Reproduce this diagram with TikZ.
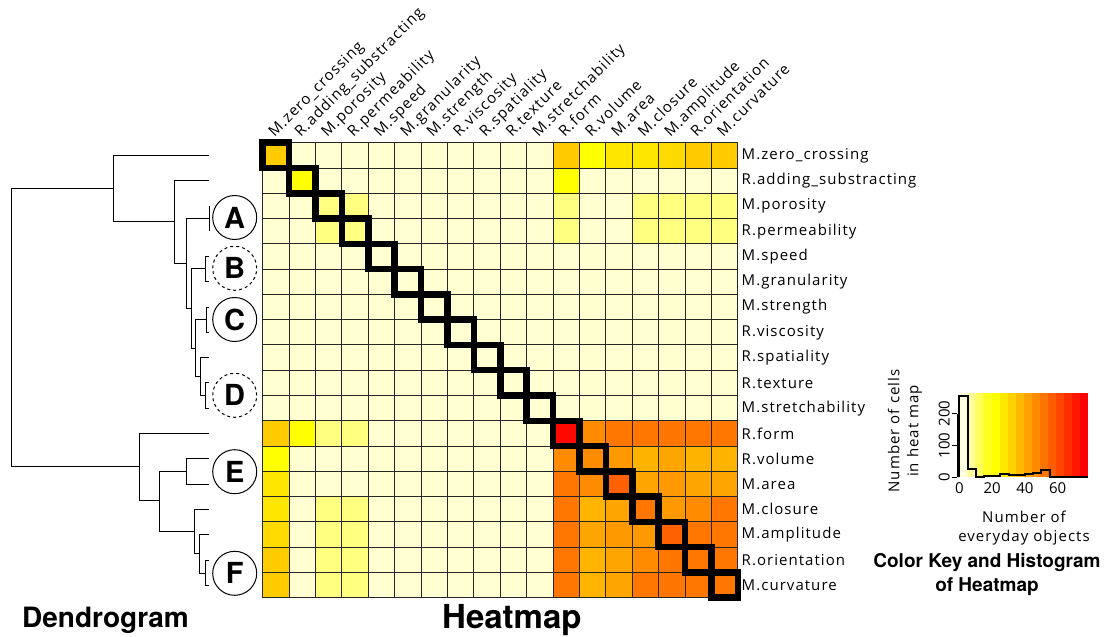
\documentclass[tikz,border=0pt]{standalone}
\usepackage{fontspec}
\setmainfont{Open Sans}[LetterSpace=7]
\newfontfamily\plain{Open Sans}
\newfontfamily\hel{TeX Gyre Heros}
\definecolor{cr}{HTML}{FFFFD2}
\definecolor{ly}{HTML}{FFFF80}
\definecolor{yl}{HTML}{FFFF00}
\definecolor{gA}{HTML}{FFE600}
\definecolor{gB}{HTML}{FFDA00}
\definecolor{gC}{HTML}{FFCC00}
\definecolor{aA}{HTML}{FFB400}
\definecolor{aB}{HTML}{FFA500}
\definecolor{oA}{HTML}{FF9900}
\definecolor{oB}{HTML}{FF8C00}
\definecolor{oC}{HTML}{FF7700}
\definecolor{oD}{HTML}{FF6000}
\definecolor{rd}{HTML}{FF0800}
\definecolor{k0}{HTML}{FFFFDF}
\definecolor{k1}{HTML}{FFFF9F}
\definecolor{k2}{HTML}{FFFF60}
\definecolor{k3}{HTML}{FFFF20}
\definecolor{k4}{HTML}{FFFF00}
\definecolor{k5}{HTML}{FFE800}
\definecolor{k6}{HTML}{FFD100}
\definecolor{k7}{HTML}{FFB900}
\definecolor{k8}{HTML}{FFA200}
\definecolor{k9}{HTML}{FF8B00}
\definecolor{k10}{HTML}{FF7400}
\definecolor{k11}{HTML}{FF5D00}
\definecolor{k12}{HTML}{FF4600}
\definecolor{k13}{HTML}{FF2E00}
\definecolor{k14}{HTML}{FF1700}
\definecolor{k15}{HTML}{FF0000}
\tikzset{
  lab/.style={inner sep=0pt, font=\fontsize{15}{19}\selectfont},
  ticklab/.style={inner sep=0pt, font=\plain\fontsize{15}{19}\selectfont},
  dend/.style={line width=1pt, black},
  grid line/.style={line width=0.9pt, black!85},
  diagbox/.style={line width=6.5pt, black},
  cluster/.style={circle, draw, line width=1pt, fill=white, minimum size=44pt, inner sep=0pt, font=\hel\bfseries\fontsize{29}{30}\selectfont},
  title/.style={inner sep=0pt, font=\hel\bfseries\fontsize{28}{30}\selectfont},
}
\begin{document}
\begin{tikzpicture}[x=1pt,y=-1pt]
\useasboundingbox (0,0) rectangle (1106,637);
\def\XO{262.7}\def\YO{142.7}\def\CW{26.4}\def\CH{25.28}
% heatmap cells
\fill[cr] (\XO,\YO) rectangle ({\XO+18*\CW},{\YO+18*\CH});
\foreach \r/\c/\col in {
 0/0/gC,0/11/gC,0/12/yl,0/13/gA,0/14/gA,0/15/gB,0/16/gC,0/17/gC,
 1/1/yl,1/11/yl,
 2/2/ly,2/3/ly,2/11/ly,2/14/ly,2/15/ly,2/16/ly,2/17/ly,
 3/2/ly,3/3/ly,3/11/ly,3/14/ly,3/15/ly,3/16/ly,3/17/ly,
 11/0/gC,11/1/yl,11/2/ly,11/3/ly,11/11/rd,11/12/oB,11/13/oC,11/14/oC,11/15/oC,11/16/oC,11/17/oC,
 12/0/yl,12/11/oB,12/12/oB,12/13/oA,12/14/aA,12/15/aB,12/16/aA,12/17/aA,
 13/0/gA,13/11/oC,13/12/oB,13/13/oD,13/14/aB,13/15/oA,13/16/aB,13/17/aB,
 14/0/gA,14/2/ly,14/3/ly,14/11/oC,14/12/aA,14/13/aB,14/14/oC,14/15/oA,14/16/oB,14/17/oC,
 15/0/gB,15/2/ly,15/3/ly,15/11/oC,15/12/aB,15/13/oA,15/14/oA,15/15/oD,15/16/oC,15/17/oC,
 16/0/gC,16/2/ly,16/3/ly,16/11/oC,16/12/aA,16/13/aB,16/14/oB,16/15/oC,16/16/oC,16/17/oC,
 17/0/gC,17/2/ly,17/3/ly,17/11/oC,17/12/aA,17/13/aB,17/14/oC,17/15/oC,17/16/oC,17/17/oC}
  \fill[\col] ({\XO+\c*\CW},{\YO+\r*\CH}) rectangle +(\CW,\CH);
\foreach \i in {0,...,18} {
  \draw[grid line] ({\XO+\i*\CW},\YO) -- +(0,{18*\CH});
  \draw[grid line] (\XO,{\YO+\i*\CH}) -- +({18*\CW},0);
}
\foreach \i in {0,...,17}
  \draw[diagbox] ({\XO+\i*\CW},{\YO+\i*\CH}) rectangle +(\CW,\CH);
% labels
\foreach \i/\t in {0/M.zero\_crossing,1/R.adding\_substracting,2/M.porosity,3/R.permeability,4/M.speed,5/M.granularity,6/M.strength,7/R.viscosity,8/R.spatiality,9/R.texture,10/M.stretchability,11/R.form,12/R.volume,13/M.area,14/M.closure,15/M.amplitude,16/R.orientation,17/M.curvature} {
  \node[lab, anchor=west] (row\i) at (741.5,{\YO+(\i+0.5)*\CH}) {\t};
  \node[lab, anchor=base west, rotate=45] (col\i) at ({\XO+(\i+0.5)*\CW-1.5},137.5) {\t};
}
% dendrogram
\draw[dend] (11,188.3) -- (11,466.7);
\draw[dend] (11,188.3) -- (113.3,188.3);
\draw[dend] (11,466.7) -- (139.3,466.7);
\draw[dend] (209.3,155) -- (113.3,155) -- (113.3,221.7) -- (174.7,221.7);
\draw[dend] (209.3,180) -- (174.7,180) -- (174.7,263.3) -- (186,263.3);
\draw[dend] (209.3,218.3) -- (186,218.3) -- (186,308.3) -- (191.7,308.3);
\draw[dend] (209.3,206) -- (209.3,231);
\draw[dend] (205,268.3) -- (191.7,268.3) -- (191.7,348.3) -- (195.7,348.3);
\draw[dend] (209.3,256.5) -- (205,256.5) -- (205,281.8) -- (209.3,281.8);
\draw[dend] (206,319.3) -- (195.7,319.3) -- (195.7,376.7) -- (200,376.7);
\draw[dend] (209.3,307) -- (206,307) -- (206,332.3) -- (209.3,332.3);
\draw[dend] (209.3,357.6) -- (200,357.6) -- (200,395) -- (205,395);
\draw[dend] (209.3,382.9) -- (205,382.9) -- (205,408.2) -- (209.3,408.2);
\draw[dend] (209.3,433.5) -- (139.3,433.5) -- (139.3,500.7) -- (159.3,500.7);
\draw[dend] (186,471.7) -- (159.3,471.7) -- (159.3,531) -- (194.3,531);
\draw[dend] (209.3,458.8) -- (186,458.8) -- (186,484.1) -- (209.3,484.1);
\draw[dend] (209.3,509.4) -- (194.3,509.4) -- (194.3,553.3) -- (199.3,553.3);
\draw[dend] (209.3,534.7) -- (199.3,534.7) -- (199.3,573.3) -- (205,573.3);
\draw[dend] (209.3,560) -- (205,560) -- (205,585.2) -- (209.3,585.2);
% clusters
\node[cluster] (A) at (234.7,217.5) {A};
\node[cluster, dashed] (B) at (234.7,268.3) {B};
\node[cluster] (C) at (234.7,319.5) {C};
\node[cluster, dashed] (D) at (234.7,395.3) {D};
\node[cluster] (E) at (234.7,471.7) {E};
\node[cluster] (F) at (234.7,573.3) {F};
% titles
\node[title, anchor=base west] (tdend) at (22,627) {Dendrogram};
\node[title, anchor=base west, font=\hel\bfseries\fontsize{33}{34}\selectfont] (theat) at (442,628.5) {Heatmap};
% color key
\foreach \i in {0,...,15}
  \fill[k\i] ({959.3+\i*8.0625},392.7) rectangle +(8.0625,84.6);
\draw[line width=2pt, line join=miter] (959.3,477.3) -- (959.3,395.7) -- (967.5,395.7) -- (967.5,469) -- (975.7,469) -- (975.7,477) -- (983.9,477) -- (983.9,475.7) -- (1000.3,475.7) -- (1000.3,474) -- (1008.5,474) -- (1008.5,475) -- (1024.9,475) -- (1024.9,474.3) -- (1033.1,474.3) -- (1033.1,472.7) -- (1041.3,472.7) -- (1041.3,470) -- (1049.5,470) -- (1049.5,476.7) -- (1057.7,476.7) -- (1057.7,477) -- (1082,477) -- (1082,476.5) -- (1088.3,476.5);
\draw[line width=0.8pt] (957,413.5) -- (957,477.3);
\foreach \v/\y in {0/477.3,100/445.3,200/413.5} {
  \draw[line width=0.8pt] (952,\y) -- (957,\y);
  \node[ticklab, rotate=90, anchor=south] (yt\v) at (950,\y) {\v};
}
\foreach \v/\x in {0/959.3,20/992.1,40/1024.9,60/1057.7}
  \node[ticklab, anchor=north] (xt\v) at (\x,482) {\v};
\node[lab, rotate=90, align=center] (ylab) at (905,431) {Number of cells\\in heat map};
\node[lab, align=center] (xlab) at (1024,528) {Number of\\everyday objects};
\node[inner sep=0pt, align=center, font=\hel\bfseries\fontsize{19}{24}\selectfont] (keytitle) at (987,574) {Color Key and Histogram\\of Heatmap};
\end{tikzpicture}
\end{document}
